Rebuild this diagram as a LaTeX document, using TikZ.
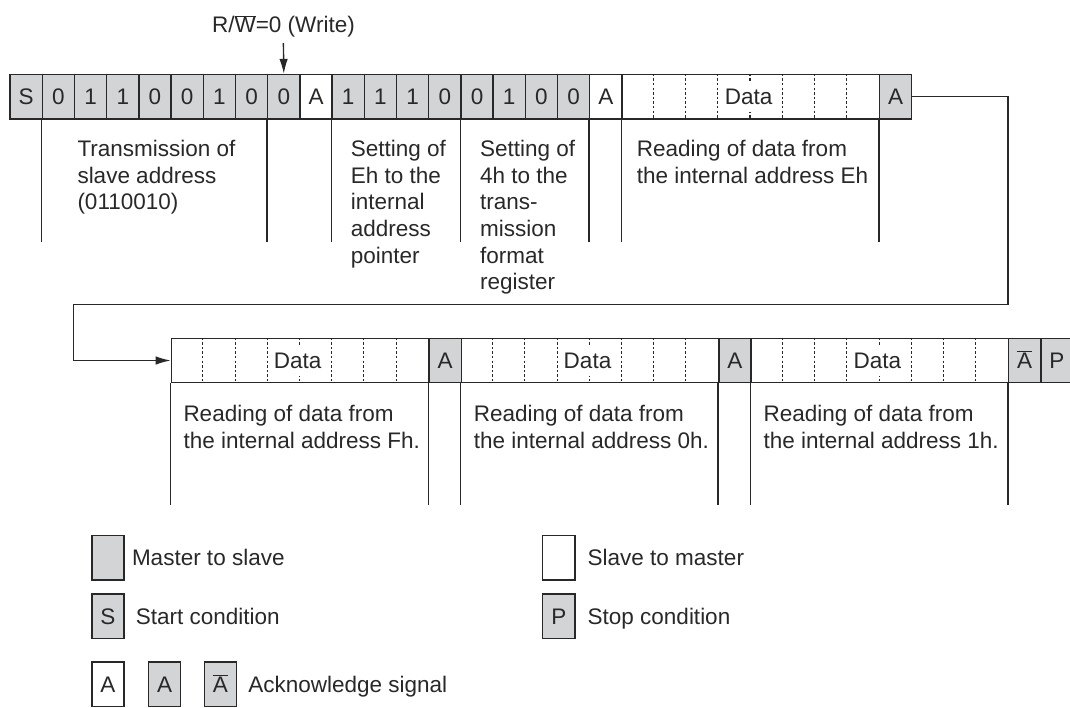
\documentclass[tikz,border=0pt]{standalone}
\usepackage{fontspec}
\setmainfont{Liberation Sans}
\usetikzlibrary{arrows.meta}
\definecolor{cellgray}{RGB}{211,212,214}
\definecolor{ink}{RGB}{40,40,40}
\newcommand\ovl[1]{$\overline{\mbox{#1}}$}
\newcommand\mylines[1]{\begin{tabular}[t]{@{}l@{}}#1\end{tabular}}
\begin{document}
\begin{tikzpicture}[x=1pt,y=-1pt,
  font=\fontsize{22.5}{26.6}\selectfont,
  cell/.style={draw=ink, line width=1.4pt, minimum width=32.2pt, minimum height=44.5pt,
    inner sep=0pt, text height=16pt, text depth=0pt, anchor=west, text=ink},
  mg/.style={fill=cellgray},
  sw/.style={fill=white},
  block/.style={draw=ink, line width=1.4pt, minimum width=257.6pt, minimum height=44.5pt,
    inner sep=0pt, anchor=west, fill=white},
  dline/.style={ink, line width=1.1pt, dash pattern=on 2.4pt off 2.2pt},
  datalbl/.style={fill=white, inner xsep=6pt, inner ysep=0pt, text height=16pt,
    text depth=0pt, minimum height=30pt, text=ink},
  desc/.style={anchor=base west, inner sep=0pt, text=ink},
  vline/.style={ink, line width=1.4pt},
  arr/.style={ink, line width=1.4pt, -{Latex[length=15pt,width=8.5pt]}}
]
\useasboundingbox (0,0) rectangle (1070,708);

% ---------- top row ----------
\foreach \lab/\st [count=\i from 0] in {S/mg,0/mg,1/mg,1/mg,0/mg,0/mg,1/mg,0/mg,0/mg,A/sw,1/mg,1/mg,1/mg,0/mg,0/mg,1/mg,0/mg,0/mg,A/sw}
  \node[cell,\st] (t\i) at (9.4+\i*32.2,96.8) {\lab};
\node[block] (d1) at (9.4+19*32.2,96.8) {};
\node[cell,mg] (t27) at (9.4+27*32.2,96.8) {A};
\foreach \k in {1,...,7}
  \draw[dline] ([xshift=\k*32.2pt]d1.north west) -- ([xshift=\k*32.2pt]d1.south west);
\node[datalbl] (dl1) at ([xshift=-2pt]d1.center) {Data};

\foreach \n in {t1,t8,t10,t14,t18,d1,t27}
  \draw[vline] (\n.south west) -- ++(0,122.4);

\node[anchor=base, inner sep=0pt, text=ink] (rw) at (283.4,32.7) {R/\ovl{W}=0 (Write)};
\draw[arr] ([yshift=-5.6pt]rw.south) -- (t8.north);

\node[desc] (x1) at (77.3,156.7) {\mylines{Transmission of\\slave address\\(0110010)}};
\node[desc] (x2) at (350.6,156.7) {\mylines{Setting of\\Eh to the\\internal\\address\\pointer}};
\node[desc] (x3) at (480,156.7) {\mylines{Setting of\\4h to the\\trans-\\mission\\format\\register}};
\node[desc] (x4) at (636.7,156.7) {\mylines{Reading of data from\\the internal address Eh}};

% ---------- second row ----------
\node[block] (d2) at (170.7,360.5) {};
\node[cell,mg] (b1) at (170.7+8*32.2,360.5) {A};
\node[block] (d3) at (170.7+9*32.2,360.5) {};
\node[cell,mg] (b2) at (170.7+17*32.2,360.5) {A};
\node[block] (d4) at (170.7+18*32.2,360.5) {};
\node[cell,mg] (b3) at (170.7+26*32.2,360.5) {\ovl{A}};
\node[cell,mg] (b4) at (170.7+27*32.2,360.5) {P};
\foreach \d in {d2,d3,d4}{
  \foreach \k in {1,...,7}
    \draw[dline] ([xshift=\k*32.2pt]\d.north west) -- ([xshift=\k*32.2pt]\d.south west);
  \node[datalbl] (l\d) at ([xshift=-2.5pt]\d.center) {Data};
}
\foreach \n in {d2,b1,d3,b2,d4,b3}
  \draw[vline] (\n.south west) -- ++(0,122);

\node[desc] (y1) at (183.3,421.7) {\mylines{Reading of data from\\the internal address Fh.}};
\node[desc] (y2) at (473.6,421.7) {\mylines{Reading of data from\\the internal address 0h.}};
\node[desc] (y3) at (763.3,421.7) {\mylines{Reading of data from\\the internal address 1h.}};

% ---------- connector ----------
\coordinate (k1) at (1008,304.3);
\coordinate (k2) at (73.7,304.3);
\draw[arr] (t27.east) -| (k1) -- (k2) |- (d2.west);

% ---------- legend ----------
\node[cell,mg] (L1) at (91.1,557.8) {};
\node[desc] (L1t) at (131.8,565.8) {Master to slave};
\node[cell,sw] (L2) at (542,557.8) {};
\node[desc] (L2t) at (587.5,565.8) {Slave to master};
\node[cell,mg] (L3) at (91.1,616.2) {S};
\node[desc] (L3t) at (135.7,624.2) {Start condition};
\node[cell,mg] (L4) at (542,616.2) {P};
\node[desc] (L4t) at (587.5,624.2) {Stop condition};
\node[cell,sw] (L5) at (91.1,684.2) {A};
\node[cell,mg] (L6) at (147.8,684.2) {A};
\node[cell,mg] (L7) at (203.6,684.2) {\ovl{A}};
\node[desc] (L7t) at (248.2,692.2) {Acknowledge signal};
\end{tikzpicture}
\end{document}
